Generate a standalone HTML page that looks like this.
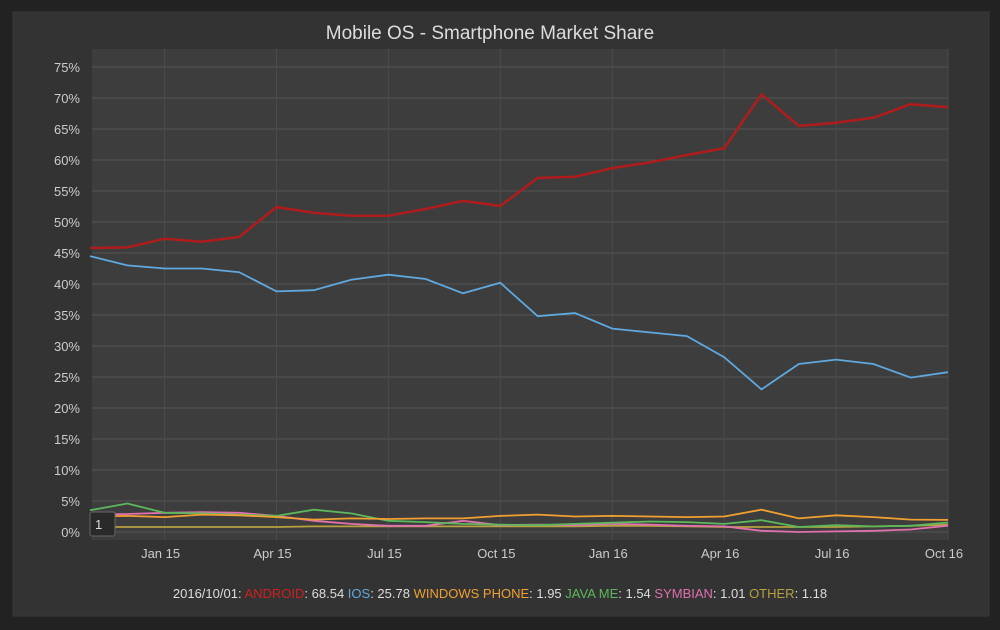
<!DOCTYPE html>
<html><head><meta charset="utf-8"><style>
body{margin:0;background:#222;font-family:"Liberation Sans",sans-serif;}
svg text{font-family:"Liberation Sans",sans-serif;}
</style></head><body>
<svg width="1000" height="625">
<rect x="0" y="0" width="1000" height="625" fill="#222"/>
<rect x="13" y="12" width="976" height="604" fill="#333" stroke="#3a3a3a"/>
<text x="490" y="39" fill="#ddd" font-size="19" text-anchor="middle">Mobile OS - Smartphone Market Share</text>
<rect x="92" y="49" width="856" height="491" fill="#3d3d3d"/>
<g id="grid"></g><g id="series"></g>
<g><rect x="90" y="512" width="25" height="24" rx="2" fill="#2a2a2a" stroke="#666"/><text x="95" y="529" fill="#ddd" font-size="13">1</text></g>
<text x="500" y="598" font-size="13" text-anchor="middle"><tspan fill="#ddd">2016/10/01: </tspan><tspan fill="#d0201f">ANDROID</tspan><tspan fill="#ddd">: 68.54 </tspan><tspan fill="#5fa8e0">IOS</tspan><tspan fill="#ddd">: 25.78 </tspan><tspan fill="#f0a030">WINDOWS PHONE</tspan><tspan fill="#ddd">: 1.95 </tspan><tspan fill="#5cb85c">JAVA ME</tspan><tspan fill="#ddd">: 1.54 </tspan><tspan fill="#e070b0">SYMBIAN</tspan><tspan fill="#ddd">: 1.01 </tspan><tspan fill="#b8a040">OTHER</tspan><tspan fill="#ddd">: 1.18</tspan></text>
</svg>
<script>
const months=["Nov 14","Dec 14","Jan 15","Feb 15","Mar 15","Apr 15","May 15","Jun 15","Jul 15","Aug 15","Sep 15","Oct 15","Nov 15","Dec 15","Jan 16","Feb 16","Mar 16","Apr 16","May 16","Jun 16","Jul 16","Aug 16","Sep 16","Oct 16"];
const android=[45.8,45.9,47.3,46.8,47.6,52.4,51.5,51.0,51.0,52.1,53.4,52.6,57.1,57.3,58.7,59.6,60.8,61.9,70.6,65.5,66.0,66.8,69.0,68.54];
const ios=[44.5,43.0,42.5,42.5,41.9,38.8,39.0,40.7,41.5,40.8,38.5,40.2,34.8,35.3,32.8,32.2,31.6,28.2,23.0,27.1,27.8,27.1,24.9,25.78];
const winphone=[2.5,2.6,2.4,2.8,2.7,2.4,2.0,2.2,2.1,2.2,2.2,2.6,2.8,2.5,2.6,2.5,2.4,2.5,3.6,2.2,2.7,2.4,2.0,1.95];
const javame=[3.5,4.6,3.1,3.0,2.8,2.6,3.6,3.0,1.8,1.6,1.3,1.2,1.1,1.3,1.5,1.7,1.6,1.3,1.9,0.8,1.1,0.9,1.0,1.54];
const symbian=[2.8,2.9,3.1,3.2,3.1,2.6,1.8,1.3,1.0,1.0,1.8,1.1,1.2,1.1,1.3,1.2,1.0,0.9,0.2,0.0,0.1,0.2,0.4,1.01];
const other=[0.8,0.8,0.8,0.8,0.8,0.8,0.9,0.9,0.9,0.9,0.9,0.9,0.9,0.9,1.0,1.0,0.9,0.8,0.8,0.8,0.8,0.9,1.0,1.18];
const yTicks=[0,5,10,15,20,25,30,35,40,45,50,55,60,65,70,75];
const xTickIdx=[2,5,8,11,14,17,20,23];
const xTickLabels=["Jan 15","Apr 15","Jul 15","Oct 15","Jan 16","Apr 16","Jul 16","Oct 16"];
const NS="http://www.w3.org/2000/svg";
const x=i=>90+i*(858/(months.length-1));
const y=v=>532-v*6.2;
const grid=document.getElementById('grid'),ser=document.getElementById('series');
function mk(tag,at,p){const e=document.createElementNS(NS,tag);for(const k in at)e.setAttribute(k,at[k]);p.appendChild(e);return e;}
yTicks.forEach(t=>{
 const l=mk('line',{x1:92,x2:948,y1:y(t),y2:y(t),stroke:'#555','stroke-width':1},grid);
 
 
 const tx=mk('text',{x:80,y:y(t)+5,fill:'#ccc','font-size':13,'text-anchor':'end'},grid);tx.textContent=t+'%';
 
 
});
xTickIdx.forEach((i,k)=>{
 const l=mk('line',{x1:x(i),x2:x(i),y1:49,y2:540,stroke:'#4c4c4c','stroke-width':1},grid);
 
 
 const tx=mk('text',{x:x(i)-4,y:558,fill:'#ccc','font-size':13,'text-anchor':'middle'},grid);tx.textContent=xTickLabels[k];
 
 
});
[[other,'#b8a040','series-other'],[symbian,'#e070b0','series-symbian'],[javame,'#5cb85c','series-java-me'],[winphone,'#f0a030','series-windows-phone'],[ios,'#5fa8e0','series-ios'],[android,'#b01c1c','series-android']].forEach(([d,c,n])=>{
 const p=mk('path',{d:d.map((v,i)=>(i?'L':'M')+x(i).toFixed(1)+','+y(v).toFixed(1)).join(''),fill:'none',stroke:c,'stroke-width':n==='series-android'?2.5:1.8},ser);
 
 
});
</script>
</body></html>
